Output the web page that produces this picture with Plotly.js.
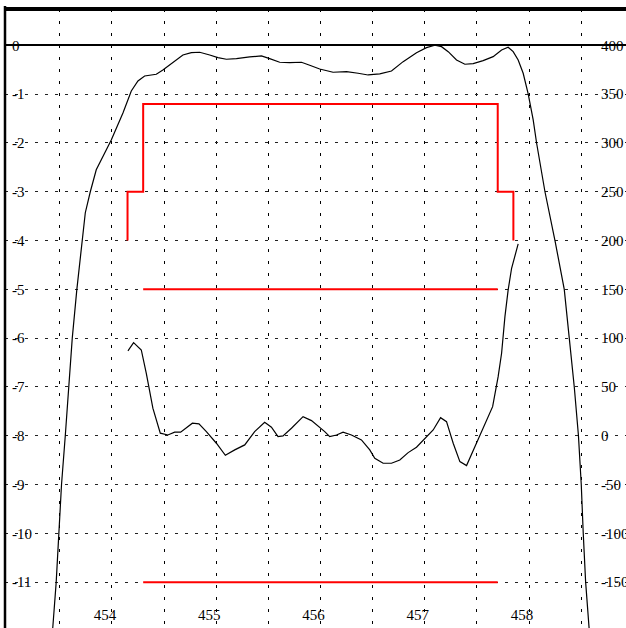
<!DOCTYPE html>
<html>
<head>
<meta charset="utf-8">
<script src="https://cdn.plot.ly/plotly-3.0.1.min.js"></script>
<style>
html,body{margin:0;padding:0;background:#fff;overflow:hidden;}
#chart{width:626px;height:628px;}
</style>
</head>
<body>
<div id="chart"></div>
<script>
// Amplitude response (left axis)
var ampX = [453.42,453.434,453.466,453.491,453.517,453.553,453.587,453.620,453.664,453.712,453.745,453.793,453.850,453.994,454.106,454.186,454.250,454.314,454.426,454.489,454.585,454.681,454.762,454.842,454.938,455.017,455.098,455.194,455.322,455.434,455.513,455.609,455.705,455.818,455.897,455.993,456.121,456.250,456.361,456.457,456.569,456.681,456.793,456.921,457.017,457.097,457.161,457.225,457.305,457.385,457.465,457.560,457.656,457.737,457.800,457.848,457.896,457.944,457.992,458.040,458.073,458.153,458.249,458.313,458.338,458.386,458.434,458.474,458.501,458.520,458.543,458.575,458.585];
var ampY = [-12.2,-11.91,-11.0,-10.0,-9.0,-8.0,-7.0,-6.0,-5.0,-4.0,-3.43,-3.0,-2.55,-1.94,-1.385,-0.934,-0.73,-0.627,-0.592,-0.504,-0.346,-0.197,-0.150,-0.141,-0.197,-0.252,-0.285,-0.273,-0.238,-0.217,-0.273,-0.346,-0.355,-0.346,-0.408,-0.484,-0.551,-0.539,-0.572,-0.607,-0.586,-0.525,-0.334,-0.150,-0.047,0.002,-0.027,-0.129,-0.299,-0.387,-0.375,-0.314,-0.232,-0.094,-0.039,-0.129,-0.299,-0.572,-0.996,-1.529,-2.006,-3.0,-4.0,-4.67,-5.0,-6.0,-7.0,-8.0,-9.0,-10.0,-11.0,-11.91,-12.2];

// Group delay (right axis)
var gdX = [454.154,454.208,454.282,454.330,454.393,454.464,454.537,454.602,454.659,454.772,454.835,454.906,455.002,455.088,455.178,455.274,455.369,455.465,455.530,455.593,455.641,455.722,455.833,455.914,456.041,456.089,456.154,456.217,456.297,456.393,456.473,456.521,456.601,456.681,456.761,456.841,456.921,457.001,457.081,457.152,457.209,457.273,457.337,457.401,457.481,457.560,457.651,457.704,457.737,457.769,457.800,457.833,457.896];
var gdY = [86.9,95.4,87.9,64.0,28.2,2.6,0.8,3.6,3.6,12.8,12.1,4.2,-7.7,-20.0,-14.5,-9.4,4.2,13.8,8.7,-0.9,-0.2,7.7,19.6,15.5,4.2,-0.9,0.8,3.6,0.8,-4.3,-14.5,-23.1,-28.2,-28.2,-24.8,-17.3,-11.8,-2.6,5.9,18.5,14.4,-7.7,-26.5,-30.6,-11.2,9.3,29.8,60.5,84.5,122.0,149.4,171.6,196.5];

// Amplitude mask (left axis)
var maskX = [454.15,454.15,454.3,454.3,457.7,457.7,457.85,457.85];
var maskY = [-4,-3,-3,-1.2,-1.2,-3,-3,-4];

// Group delay limits (right axis)
var gdLimX = [454.3,457.7];
var gdLimUpper = [150,150];
var gdLimLower = [-150,-150];

// Tick labels
var xTickVals = [453,453.5,454,454.5,455,455.5,456,456.5,457,457.5,458,458.5];
var xTickText = ['','','454','','455','','456','','457','','458',''];
var yTickVals = [0,-1,-2,-3,-4,-5,-6,-7,-8,-9,-10,-11];
var yTickText = ['0','-1','-2','-3','-4','-5','-6','-7','-8','-9','-10','-11'];
var y2TickVals = [400,350,300,250,200,150,100,50,0,-50,-100,-150];
var y2TickText = ['400','350','300','250','200','150','100','50','0','-50','-100','-150'];

var yRange = [-11.94, 0.745];
var y2Range = [400 + 50*yRange[0], 400 + 50*yRange[1]];

var font = {family:'Liberation Serif, Times New Roman, serif', size:15, color:'#000'};

var traces = [
  {x:ampX, y:ampY, type:'scatter', mode:'lines', line:{color:'#000', width:1.2}, yaxis:'y', hoverinfo:'skip'},
  {x:gdX, y:gdY, type:'scatter', mode:'lines', line:{color:'#000', width:1.2}, yaxis:'y2', hoverinfo:'skip'},
  {x:maskX, y:maskY, type:'scatter', mode:'lines', line:{color:'#ff0000', width:2}, yaxis:'y', hoverinfo:'skip'},
  {x:gdLimX, y:gdLimUpper, type:'scatter', mode:'lines', line:{color:'#ff0000', width:2}, yaxis:'y2', hoverinfo:'skip'},
  {x:gdLimX, y:gdLimLower, type:'scatter', mode:'lines', line:{color:'#ff0000', width:2}, yaxis:'y2', hoverinfo:'skip'}
];

var layout = {
  width:626, height:628,
  margin:{l:5, r:0, t:9, b:0, pad:0},
  paper_bgcolor:'#fff', plot_bgcolor:'#fff',
  showlegend:false,
  font:font,
  xaxis:{
    range:[452.975, 458.93], tickmode:'array', tickvals:xTickVals, ticktext:xTickText,
    showgrid:true, gridcolor:'#000', gridwidth:1, griddash:'3px,9px',
    zeroline:false, showline:false, ticks:'',
    ticklabelposition:'inside', ticklabelshift:-7, ticklabelstandoff:2,
    tickfont:font, fixedrange:true
  },
  yaxis:{
    range:yRange, tickmode:'array', tickvals:yTickVals, ticktext:yTickText,
    showgrid:true, gridcolor:'#222', gridwidth:1, griddash:'3px,7px',
    zeroline:true, zerolinecolor:'#000', zerolinewidth:2,
    showline:false, ticks:'', ticklabelposition:'inside', ticklabelstandoff:4,
    tickfont:font, fixedrange:true
  },
  yaxis2:{
    range:y2Range, overlaying:'y', side:'right', anchor:'free', position:0.958,
    tickmode:'array', tickvals:y2TickVals, ticktext:y2TickText,
    showgrid:false, zeroline:false, showline:false, ticks:'',
    tickfont:font, fixedrange:true
  },
  shapes:[
    {type:'line', xref:'paper', yref:'paper', x0:0, x1:1.02, y0:1, y1:1, line:{color:'#000', width:4}},
    {type:'line', xref:'paper', yref:'paper', x0:0, x1:0, y0:-0.02, y1:1.005, line:{color:'#000', width:2.5}}
  ]
};

Plotly.newPlot('chart', traces, layout, {displayModeBar:false, staticPlot:true});
</script>
</body>
</html>
